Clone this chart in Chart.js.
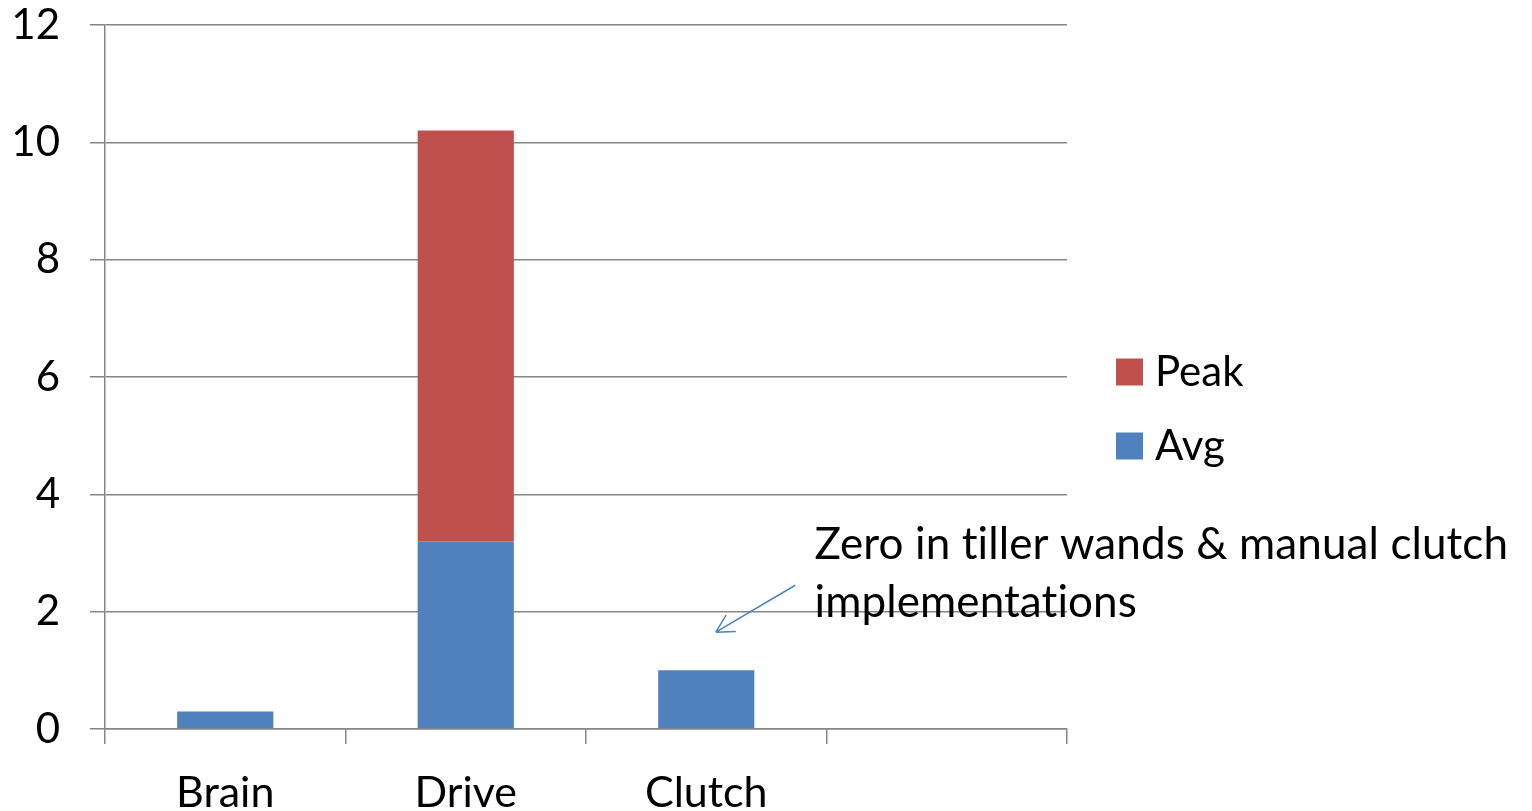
<!DOCTYPE html>
<html>
<head>
<meta charset="utf-8">
<script src="https://cdn.jsdelivr.net/npm/chart.js@4.4.1/dist/chart.umd.min.js"></script>
<style>
  html, body { margin: 0; padding: 0; background: #fff; }
  #wrap { width: 1532px; height: 811px; }
</style>
</head>
<body>
<div id="wrap"><canvas id="chart"></canvas></div>
<script>
const categories = ["Brain", "Drive", "Clutch", ""];
const avgValues = [0.3, 3.2, 1.0, null];
const peakValues = [null, 7.0, null, null];
const yTicks = [0, 2, 4, 6, 8, 10, 12];
const noteLines = ["Zero in tiller wands & manual clutch", "implementations"];

const FONT = "Lato, 'Open Sans', sans-serif";
const GRID = "#868686";

// legend + arrow note, drawn after the bars
const extras = {
  id: "extras",
  afterDraw(chart) {
    const { ctx, chartArea, scales } = chart;
    const x = scales.x, y = scales.y;
    ctx.save();

    // legend (Peak above Avg)
    const items = [chart.data.datasets[1], chart.data.datasets[0]];
    const lx = chartArea.right + 49;
    const midY = (chartArea.top + chartArea.bottom) / 2;
    ctx.font = "42px " + FONT;
    ctx.textBaseline = "middle";
    items.forEach((ds, i) => {
      const cy = midY - 5 + i * 74;
      ctx.fillStyle = ds.backgroundColor;
      ctx.fillRect(lx, cy - 13.5, 27, 27);
      ctx.fillStyle = "#000";
      ctx.fillText(ds.label, lx + 39, cy);
    });

    // note text (small letter spacing keeps "ti" from ligating)
    const tx = x.getPixelForValue(2.45);
    ctx.font = "44px " + FONT;
    if ("letterSpacing" in ctx) ctx.letterSpacing = "0.1px";
    ctx.textBaseline = "middle";
    ctx.fillText(noteLines[0], tx, y.getPixelForValue(3.14));
    ctx.fillText(noteLines[1], tx, y.getPixelForValue(2.15));

    // arrow
    const x0 = x.getPixelForValue(2.37), y0 = y.getPixelForValue(2.45);
    const x1 = x.getPixelForValue(2.04), y1 = y.getPixelForValue(1.65);
    ctx.strokeStyle = "#4F81BD";
    ctx.lineWidth = 1.5;
    ctx.beginPath();
    ctx.moveTo(x0, y0);
    ctx.lineTo(x1, y1);
    const ang = Math.atan2(y1 - y0, x1 - x0);
    const len = 20;
    ctx.moveTo(x1, y1);
    ctx.lineTo(x1 - len * Math.cos(ang - 0.5), y1 - len * Math.sin(ang - 0.5));
    ctx.moveTo(x1, y1);
    ctx.lineTo(x1 - len * Math.cos(ang + 0.5), y1 - len * Math.sin(ang + 0.5));
    ctx.stroke();
    ctx.restore();
  }
};

new Chart(document.getElementById("chart"), {
  type: "bar",
  data: {
    labels: categories,
    datasets: [
      { label: "Avg", data: avgValues, backgroundColor: "#4F81BD" },
      { label: "Peak", data: peakValues, backgroundColor: "#C0504D" }
    ]
  },
  options: {
    responsive: true,
    maintainAspectRatio: false,
    animation: false,
    events: [],
    layout: { padding: { top: 25, right: 465, left: 0, bottom: 0 } },
    datasets: { bar: { categoryPercentage: 1, barPercentage: 0.4 } },
    plugins: { legend: { display: false }, tooltip: { enabled: false } },
    scales: {
      x: {
        stacked: true,
        offset: true,
        grid: {
          offset: true,
          drawOnChartArea: false,
          drawTicks: true,
          tickLength: 15,
          color: GRID,
          lineWidth: 1.5
        },
        border: { color: GRID, width: 1.5 },
        ticks: { font: { family: FONT, size: 43 }, color: "#000", padding: 23, maxRotation: 0 },
        afterFit(s) { s.height = 82; }
      },
      y: {
        stacked: true,
        min: 0,
        max: 12,
        afterBuildTicks(s) { s.ticks = yTicks.map(v => ({ value: v })); },
        grid: { color: GRID, lineWidth: 1.5, tickLength: 15 },
        border: { color: GRID, width: 1.5 },
        ticks: { font: { family: FONT, size: 42 }, color: "#000", padding: 30 },
        afterFit(s) {
          s.width = 105;
          s.paddingTop = 0;
          s.paddingBottom = 0;
        }
      }
    }
  },
  plugins: [extras]
});
</script>
</body>
</html>
